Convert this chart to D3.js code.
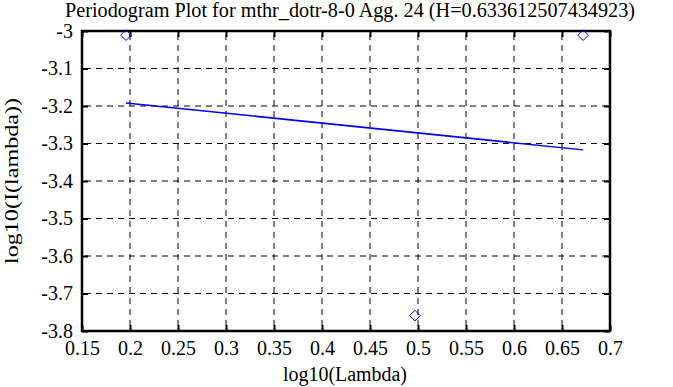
<!DOCTYPE html>
<html><head><meta charset="utf-8">
<script src="https://cdn.jsdelivr.net/npm/d3@7"></script>
<style>body{margin:0;background:#fff}svg{display:block}text{font-family:"Liberation Serif","Times New Roman",serif;fill:#000}</style>
</head><body>
<script>
const title = "Periodogram Plot for mthr_dotr-8-0 Agg. 24 (H=0.633612507434923)";
const xLabel = "log10(Lambda)";
const yLabel = "log10(I(lambda))";
const pointX = [0.1958, 0.4968, 0.672];
const pointY = [-3.011, -3.759, -3.011];
const fitX = [0.1958, 0.672];
const fitY = [-3.192, -3.317];
const xTicks = [0.15,0.2,0.25,0.3,0.35,0.4,0.45,0.5,0.55,0.6,0.65,0.7];
const yTicks = [-3,-3.1,-3.2,-3.3,-3.4,-3.5,-3.6,-3.7,-3.8];

const W=673,H=387, L=82, R=610, T=31, B=331;
const FONT="Liberation Serif, Times New Roman, serif";
const svg=d3.select("body").append("svg").attr("width",W).attr("height",H);
const x=d3.scaleLinear().domain([0.15,0.7]).range([L,R]);
const y=d3.scaleLinear().domain([-3.8,-3]).range([B,T]);

// grid
const g=svg.append("g");
xTicks.slice(1,-1).forEach(t=>g.append("line").attr("x1",x(t)).attr("x2",x(t)).attr("y1",T).attr("y2",B)
  .attr("stroke","#000").attr("stroke-width",1).attr("stroke-dasharray","6,5").attr("stroke-dashoffset",-3));
yTicks.slice(1,-1).forEach(t=>g.append("line").attr("x1",L).attr("x2",R).attr("y1",y(t)).attr("y2",y(t))
  .attr("stroke","#000").attr("stroke-width",1).attr("stroke-dasharray","6,5").attr("stroke-dashoffset",-3));

// axes
const fmt=d=>String(d);
const ax=(a,tr)=>svg.append("g").attr("transform",tr).call(a);
const styleAxis=sel=>{sel.attr("font-family",FONT).attr("font-size",20);sel.select(".domain").remove();
  sel.selectAll(".tick line").attr("stroke","#000").attr("stroke-width",2);
  sel.selectAll("text").attr("fill","#000").style("font-family",FONT);};
const xb=ax(d3.axisBottom(x).tickValues(xTicks).tickFormat(fmt).tickSizeInner(-6).tickPadding(0),`translate(0,${B})`);
styleAxis(xb); xb.selectAll(".tick text").attr("y",24).attr("dy",null);
const xt=ax(d3.axisTop(x).tickValues(xTicks).tickFormat("").tickSizeInner(-6),`translate(0,${T})`); styleAxis(xt);
const yl=ax(d3.axisLeft(y).tickValues(yTicks).tickFormat(fmt).tickSizeInner(-6).tickPadding(9),`translate(${L},0)`);
styleAxis(yl); yl.selectAll(".tick text").attr("dy","0.3em");
const yr=ax(d3.axisRight(y).tickValues(yTicks).tickFormat("").tickSizeInner(-6),`translate(${R},0)`); styleAxis(yr);

svg.append("rect").attr("x",L).attr("y",T).attr("width",R-L).attr("height",B-T)
  .attr("fill","none").attr("stroke","#000").attr("stroke-width",2.5);

// fit line
svg.append("path").datum(fitX.map((v,i)=>[v,fitY[i]]))
  .attr("d",d3.line().x(d=>x(d[0])).y(d=>y(d[1]))).attr("fill","none").attr("stroke","#0000ff").attr("stroke-width",1.5);

// points
svg.append("g").selectAll("path").data(pointX.map((v,i)=>[v,pointY[i]])).join("path")
  .attr("d",d3.symbol().type(d3.symbolDiamond2).size(72))
  .attr("transform",d=>`translate(${x(d[0])},${y(d[1])})`)
  .attr("fill","none").attr("stroke","#0000ff").attr("stroke-width",1);

// titles
svg.append("text").attr("x",350).attr("y",17).attr("text-anchor","middle").style("font-size","20px")
  .attr("textLength",570).attr("lengthAdjust","spacingAndGlyphs").text(title);
svg.append("text").attr("x",345).attr("y",381).attr("text-anchor","middle").style("font-size","20px")
  .attr("textLength",124).attr("lengthAdjust","spacingAndGlyphs").text(xLabel);
svg.append("text").attr("transform",`translate(18,${(T+B)/2}) rotate(-90)`).attr("text-anchor","middle").style("font-size","18px")
  .attr("textLength",166).attr("lengthAdjust","spacingAndGlyphs").text(yLabel);
</script>
</body></html>
